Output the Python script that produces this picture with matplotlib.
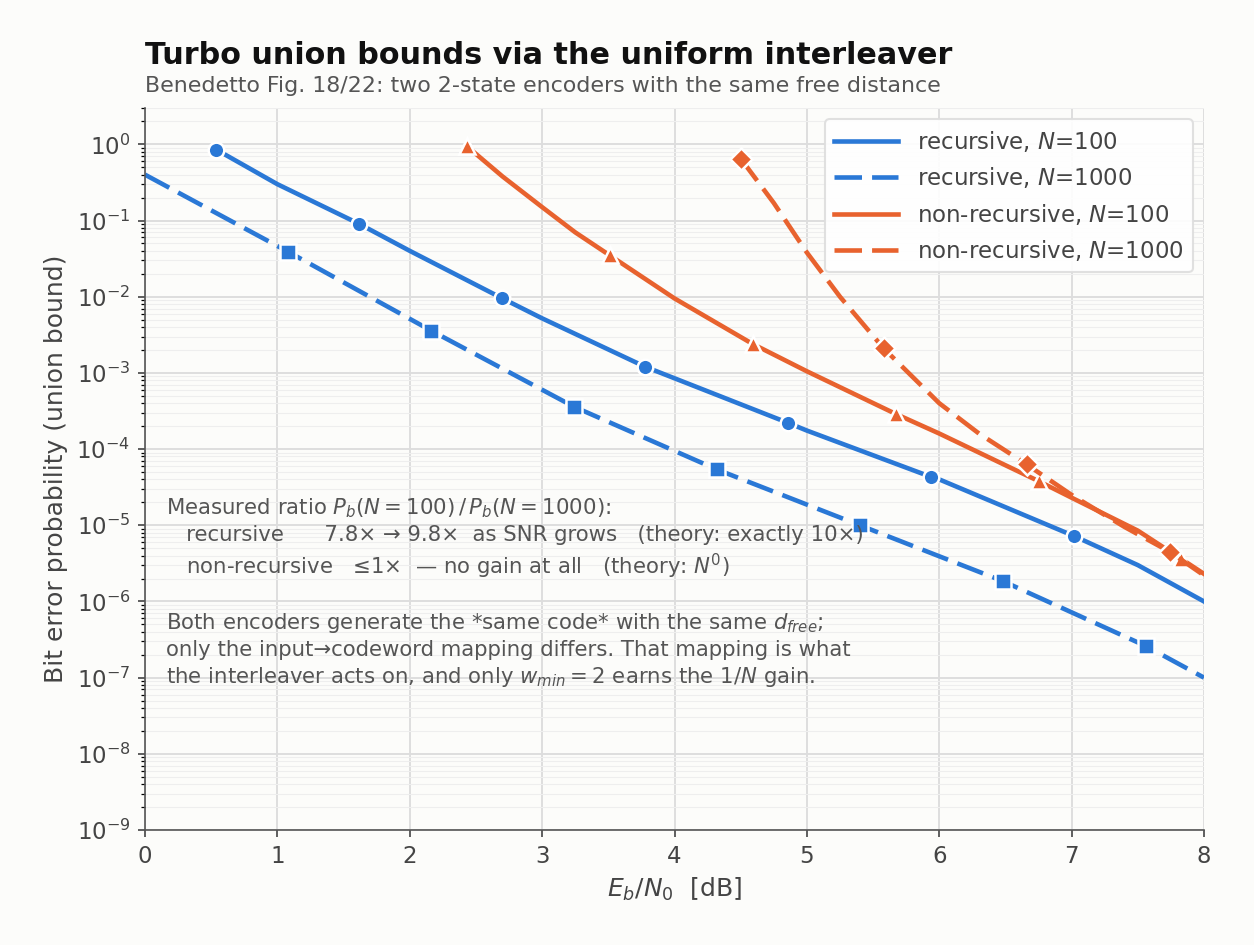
import matplotlib
matplotlib.use("Agg")
import matplotlib.pyplot as plt
from matplotlib.lines import Line2D

# data
rec100_x = [0.54, 1.0, 1.62, 2.0, 2.7, 3.0, 3.78, 4.0, 4.86, 5.0, 5.94, 6.0, 7.02, 7.5, 8.0]
rec100_y = [0.85, 0.3, 0.09, 0.04, 0.0095, 5.2e-3, 1.2e-3, 8.5e-4, 2.2e-4, 1.75e-4, 4.3e-5, 4.0e-5, 7.2e-6, 3.0e-6, 1.0e-6]
rec100_m = [0, 2, 4, 6, 8, 10, 12]

rec1000_x = [0.0, 1.08, 2.16, 3.24, 4.32, 5.4, 6.48, 7.56, 8.0]
rec1000_y = [0.4, 0.039, 3.6e-3, 3.6e-4, 5.4e-5, 1.0e-5, 1.85e-6, 2.6e-7, 1.0e-7]
rec1000_m = [1, 2, 3, 4, 5, 6, 7]

nr100_x = [2.43, 2.7, 3.0, 3.25, 3.51, 4.0, 4.59, 5.0, 5.67, 6.0, 6.75, 7.0, 7.5, 7.83, 8.0]
nr100_y = [0.95, 0.38, 0.15, 0.07, 0.035, 9.5e-3, 2.4e-3, 1.05e-3, 2.9e-4, 1.6e-4, 3.8e-5, 2.3e-5, 8.5e-6, 3.6e-6, 2.3e-6]
nr100_m = [0, 4, 6, 8, 10, 13]

nr1000_x = [4.5, 4.75, 5.0, 5.25, 5.58, 6.0, 6.3, 6.66, 7.0, 7.4, 7.74, 8.0]
nr1000_y = [0.65, 0.17, 0.038, 0.01, 2.1e-3, 4.0e-4, 1.6e-4, 6.3e-5, 2.5e-5, 9.5e-6, 4.5e-6, 2.2e-6]
nr1000_m = [0, 4, 7, 10]

blue = "#2a78d6"
orange = "#e8622e"
bg = "#fcfcfa"

fig = plt.figure(figsize=(8.36, 6.3), dpi=150, facecolor=bg)
ax = fig.add_axes([145/1254, 1-830/945, (1204-145)/1254, (830-108)/945])
ax.set_facecolor(bg)
dash = (0, (6, 2.2))
kw = dict(lw=2.2, markersize=7.5, markeredgecolor="white", markeredgewidth=1.2)
ax.plot(rec100_x, rec100_y, color=blue, marker="o", markevery=rec100_m, **kw)
ax.plot(rec1000_x, rec1000_y, color=blue, marker="s", ls=dash, markevery=rec1000_m, **kw)
ax.plot(nr100_x, nr100_y, color=orange, marker="^", markevery=nr100_m, **kw)
ax.plot(nr1000_x, nr1000_y, color=orange, marker="D", ls=dash, markevery=nr1000_m, **kw)

ax.set_yscale("log")
ax.set_xlim(0, 8)
ax.set_ylim(1e-9, 3)
ax.set_yticks([10.0**k for k in range(-9, 1)])
ax.grid(True, which="major", color="#dddddd", lw=0.9)
ax.grid(True, which="minor", axis="y", color="#eeeeee", lw=0.5)
for s in ["top", "right"]:
    ax.spines[s].set_visible(False)
for s in ["left", "bottom"]:
    ax.spines[s].set_color("#555555")
ax.tick_params(colors="#444444", labelsize=11)
ax.set_xlabel("$E_b/N_0$  [dB]", fontsize=12, color="#444444")
ax.set_ylabel("Bit error probability (union bound)", fontsize=12, color="#444444")
handles = [Line2D([], [], color=blue, lw=2.2),
           Line2D([], [], color=blue, lw=2.2, ls=dash),
           Line2D([], [], color=orange, lw=2.2),
           Line2D([], [], color=orange, lw=2.2, ls=dash)]
labels = ["recursive, $N$=100", "recursive, $N$=1000", "non-recursive, $N$=100", "non-recursive, $N$=1000"]
leg = ax.legend(handles, labels, loc="upper right", fontsize=11, handlelength=2.8, framealpha=0.9, edgecolor="#dddddd")
for t in leg.get_texts():
    t.set_color("#444444")

fig.text(145/1254, 1-55/945, "Turbo union bounds via the uniform interleaver", fontsize=14.5, fontweight="bold", va="center", color="#111111")
fig.text(145/1254, 1-86/945, "Benedetto Fig. 18/22: two 2-state encoders with the same free distance", fontsize=10.6, va="center", color="#555555")

txt = ("Measured ratio $P_b(N=100)\\,/\\,P_b(N=1000)$:\n"
       "   recursive      7.8× → 9.8×  as SNR grows   (theory: exactly 10×)\n"
       "   non-recursive   ≤1×  — no gain at all   (theory: $N^0$)\n\n"
       "Both encoders generate the *same code* with the same $d_{free}$;\n"
       "only the input→codeword mapping differs. That mapping is what\n"
       "the interleaver acts on, and only $w_{min}=2$ earns the 1/$N$ gain.")
ax.text(0.16, 1.3e-6, txt, fontsize=10.2, color="#555555", va="center", linespacing=1.3)

fig.savefig("out.png", dpi=150, facecolor=bg)
